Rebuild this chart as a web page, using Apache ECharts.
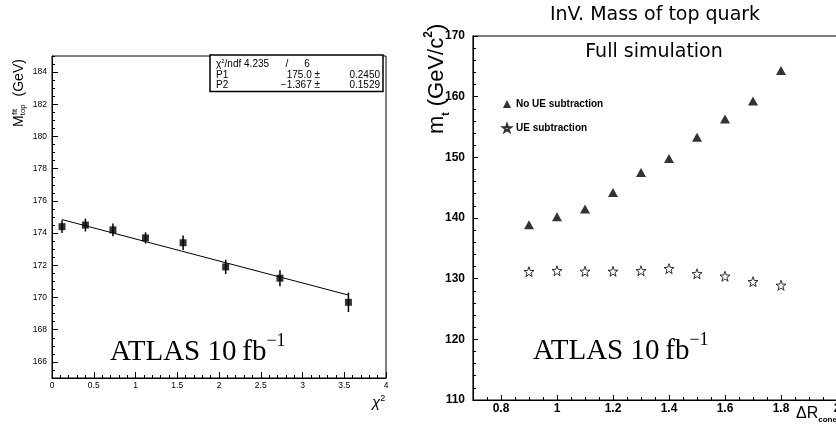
<!DOCTYPE html>
<html>
<head>
<meta charset="utf-8">
<script src="https://cdn.jsdelivr.net/npm/echarts@6/dist/echarts.min.js"></script>
<style>
html, body { margin: 0; padding: 0; background: #fff; }
#main { width: 836px; height: 430px; }
</style>
</head>
<body>
<div id="main"></div>
<script>
// left panel: fitted top mass vs chi2
var chi2X = [0.12, 0.40, 0.73, 1.12, 1.57, 2.08, 2.73, 3.55];
var mFit = [174.4, 174.5, 174.2, 173.7, 173.4, 171.9, 171.2, 169.7];
var mFitErr = [0.4, 0.4, 0.4, 0.35, 0.45, 0.45, 0.5, 0.6];
var fitEnds = [[0.12, 174.84], [3.55, 170.15]];
var leftXTicks = [0, 0.5, 1, 1.5, 2, 2.5, 3, 3.5, 4];
var leftYTicks = [166, 168, 170, 172, 174, 176, 178, 180, 182, 184];
var statRows = [
  ['P1', '175.0 \u00b1', '0.2450'],
  ['P2', '\u22121.367 \u00b1', '0.1529']
];

// right panel: reconstructed top mass vs cone size
var coneR = [0.9, 1.0, 1.1, 1.2, 1.3, 1.4, 1.5, 1.6, 1.7, 1.8];
var mNoUE = [138.9, 140.2, 141.5, 144.2, 147.5, 149.8, 153.3, 156.3, 159.3, 164.3];
var mUE = [131.15, 131.3, 131.2, 131.2, 131.3, 131.65, 130.8, 130.4, 129.5, 128.9];
var rightXTicks = [0.8, 1, 1.2, 1.4, 1.6, 1.8, 2];
var rightYTicks = [110, 120, 130, 140, 150, 160, 170];

var starPath = 'path://M0,-10L2.35,-3.24L9.51,-3.09L3.8,1.24L5.88,8.09L0,4L-5.88,8.09L-3.8,1.24L-9.51,-3.09L-2.35,-3.24Z';
var sans = 'Liberation Sans';

function zip(a, b) {
  return a.map(function (v, i) { return [v, b[i]]; });
}

// each axis is drawn twice: short minor ticks, then long major ticks with labels
function axisPair(grid, min, max, minorStep, ticks, majorLen, label) {
  var minor = {
    type: 'value', gridIndex: grid, min: min, max: max, interval: minorStep,
    axisLine: { show: false },
    axisTick: { show: true, inside: true, length: 3, lineStyle: { color: '#000' } },
    axisLabel: { show: false },
    splitLine: { show: false }
  };
  var major = {
    type: 'value', gridIndex: grid, min: min, max: max,
    axisLine: { show: true, lineStyle: { color: '#000', width: 1 } },
    axisTick: { show: true, inside: true, length: majorLen, customValues: ticks, lineStyle: { color: '#000' } },
    axisLabel: Object.assign({ customValues: ticks, color: '#000', fontFamily: sans }, label),
    splitLine: { show: false }
  };
  return [minor, major];
}

var lx = axisPair(0, 0, 4, 0.1, leftXTicks, 6, { fontSize: 8.5, margin: 3 });
var ly = axisPair(0, 165, 185, 0.5, leftYTicks, 6, { fontSize: 8.5, margin: 5 });
var rx = axisPair(1, 0.7, 2.0, 0.05, rightXTicks, 5, { fontSize: 12, fontWeight: 'bold', margin: 3 });
var ry = axisPair(1, 110, 170, 2, rightYTicks, 5, { fontSize: 12, fontWeight: 'bold', margin: 8 });
lx.forEach(function (a) { a.position = 'bottom'; });
rx.forEach(function (a) { a.position = 'bottom'; });
ly.forEach(function (a) { a.position = 'left'; });
ry.forEach(function (a) { a.position = 'left'; });

var graphics = [
  // left y title
  { type: 'text', x: 19, y: 127, rotation: Math.PI / 2, z: 10,
    style: { text: '{m|M}{b|top}{a|  (GeV)}', fill: '#000', align: 'left', verticalAlign: 'middle',
      rich: {
        m: { fontSize: 14, fontFamily: sans, lineHeight: 16, fill: '#000' },
        b: { fontSize: 8, fontFamily: sans, lineHeight: 10, verticalAlign: 'bottom', fill: '#000' },
        a: { fontSize: 14, fontFamily: sans, lineHeight: 16, fill: '#000' }
      } } },
  { type: 'text', x: 14.5, y: 115, rotation: Math.PI / 2, z: 10,
    style: { text: 'fit', fontSize: 8, fontFamily: sans, fill: '#000', align: 'left', verticalAlign: 'middle' } },
  // stats box
  { type: 'rect', z: 10, shape: { x: 210, y: 55, width: 173, height: 36.5 },
    style: { fill: '#fff', stroke: '#000', lineWidth: 1.5 } },
  { type: 'text', x: 216, y: 64.5, z: 11,
    style: { text: '{a|\u03c7}{s|2}{a|/ndf 4.235}', fill: '#000', align: 'left', verticalAlign: 'middle',
      rich: {
        a: { fontSize: 10, fontFamily: sans, lineHeight: 12, fill: '#000' },
        s: { fontSize: 6, fontFamily: sans, lineHeight: 7, verticalAlign: 'top', fill: '#000' }
      } } },
  { type: 'text', x: 287, y: 64.5, z: 11,
    style: { text: '/', fontSize: 10, fontFamily: sans, fill: '#000', align: 'center', verticalAlign: 'middle' } },
  { type: 'text', x: 307, y: 64.5, z: 11,
    style: { text: '6', fontSize: 10, fontFamily: sans, fill: '#000', align: 'center', verticalAlign: 'middle' } }
];
statRows.forEach(function (row, i) {
  var y = 75 + i * 10.5;
  graphics.push({ type: 'text', x: 216, y: y, z: 11,
    style: { text: row[0], fontSize: 10, fontFamily: sans, fill: '#000', align: 'left', verticalAlign: 'middle' } });
  graphics.push({ type: 'text', x: 320, y: y, z: 11,
    style: { text: row[1], fontSize: 10, fontFamily: sans, fill: '#000', align: 'right', verticalAlign: 'middle' } });
  graphics.push({ type: 'text', x: 380, y: y, z: 11,
    style: { text: row[2], fontSize: 10, fontFamily: sans, fill: '#000', align: 'right', verticalAlign: 'middle' } });
});

function atlasLabel(x, y) {
  return { type: 'text', x: x, y: y, z: 10,
    style: { text: '{a|ATLAS 10\u2009fb}{s|\u22121}', fill: '#000', align: 'left', verticalAlign: 'middle',
      rich: {
        a: { fontSize: 29, fontFamily: 'Liberation Serif', lineHeight: 40, fill: '#000' },
        s: { fontSize: 18, fontFamily: 'Liberation Serif', lineHeight: 14, verticalAlign: 'top', fill: '#000' }
      } } };
}
graphics.push(atlasLabel(110, 352));
graphics.push(atlasLabel(533, 351));

graphics.push(
  // chi2 axis title
  { type: 'text', x: 372, y: 403, z: 10,
    style: { text: '{a|\u03c7}{s|2}', fill: '#000', align: 'left', verticalAlign: 'middle',
      rich: {
        a: { fontSize: 15, fontFamily: sans, fontStyle: 'italic', lineHeight: 18, fill: '#000' },
        s: { fontSize: 9, fontFamily: sans, lineHeight: 9, verticalAlign: 'top', fill: '#000' }
      } } },
  // right title and tag
  { type: 'text', x: 655, y: 15, z: 10,
    style: { text: 'InV. Mass of top quark', fontSize: 19, fontFamily: 'DejaVu Sans', fill: '#000',
      align: 'center', verticalAlign: 'middle' } },
  { type: 'text', x: 654, y: 52, z: 10,
    style: { text: 'Full simulation', fontSize: 19, fontFamily: 'DejaVu Sans', fill: '#000',
      align: 'center', verticalAlign: 'middle' } },
  // right y title
  { type: 'text', x: 437, y: 134, rotation: Math.PI / 2, z: 10,
    style: { text: '{a|m}{b|t}{a| (GeV/c}{c|2}{a|)}', fill: '#000', align: 'left', verticalAlign: 'middle',
      rich: {
        a: { fontSize: 22, fontFamily: sans, lineHeight: 28, fill: '#000' },
        b: { fontSize: 10, fontFamily: sans, fontWeight: 'bold', lineHeight: 12, verticalAlign: 'bottom', fill: '#000' },
        c: { fontSize: 12, fontFamily: sans, fontWeight: 'bold', lineHeight: 13, verticalAlign: 'top', fill: '#000' }
      } } },
  // right x title
  { type: 'text', x: 796, y: 414, z: 10,
    style: { text: '{a|\u0394R}{b|cone}', fill: '#000', align: 'left', verticalAlign: 'middle',
      rich: {
        a: { fontSize: 16, fontFamily: sans, lineHeight: 20, fill: '#000' },
        b: { fontSize: 8, fontFamily: sans, fontWeight: 'bold', lineHeight: 10, verticalAlign: 'bottom', fill: '#000' }
      } } }
);

var chart = echarts.init(document.getElementById('main'), null, { renderer: 'canvas' });
chart.setOption({
  animation: false,
  backgroundColor: '#fff',
  grid: [
    { left: 52, top: 56, width: 334, height: 322, show: true, borderColor: '#000', borderWidth: 1,
      backgroundColor: 'transparent', outerBoundsMode: 'none' },
    { left: 473, top: 36, width: 364, height: 364, show: true, borderColor: '#000', borderWidth: 1.2,
      backgroundColor: 'transparent', outerBoundsMode: 'none' }
  ],
  xAxis: [lx[0], lx[1], rx[0], rx[1]],
  yAxis: [ly[0], ly[1], ry[0], ry[1]],
  legend: {
    orient: 'vertical', left: 497, top: 94, itemWidth: 8, itemHeight: 8, itemGap: 14,
    data: ['No UE subtraction', 'UE subtraction'],
    textStyle: { fontSize: 10, fontWeight: 'bold', fontFamily: sans, color: '#000' },
    selectedMode: false
  },
  graphic: graphics,
  series: [
    {
      type: 'custom', xAxisIndex: 1, yAxisIndex: 1, z: 3,
      data: chi2X.map(function (x, i) { return [x, mFit[i], mFitErr[i]]; }),
      renderItem: function (params, api) {
        var lo = api.coord([api.value(0), api.value(1) - api.value(2)]);
        var hi = api.coord([api.value(0), api.value(1) + api.value(2)]);
        return { type: 'line', shape: { x1: lo[0], y1: lo[1], x2: hi[0], y2: hi[1] },
          style: { stroke: '#000', lineWidth: 1.5 } };
      }
    },
    {
      type: 'line', xAxisIndex: 1, yAxisIndex: 1, data: fitEnds, symbol: 'none', z: 2,
      lineStyle: { color: '#000', width: 1 }
    },
    {
      type: 'scatter', xAxisIndex: 1, yAxisIndex: 1, data: zip(chi2X, mFit), symbol: 'rect', symbolSize: 7, z: 4,
      itemStyle: { color: '#000' }
    },
    {
      name: 'No UE subtraction', type: 'scatter', xAxisIndex: 3, yAxisIndex: 3, data: zip(coneR, mNoUE),
      symbol: 'triangle', symbolSize: [10, 9], itemStyle: { color: '#000' }
    },
    {
      name: 'UE subtraction', type: 'scatter', xAxisIndex: 3, yAxisIndex: 3, data: zip(coneR, mUE),
      symbol: starPath, symbolSize: 10, itemStyle: { color: '#fff', borderColor: '#000', borderWidth: 1 }
    }
  ]
});
</script>
</body>
</html>
